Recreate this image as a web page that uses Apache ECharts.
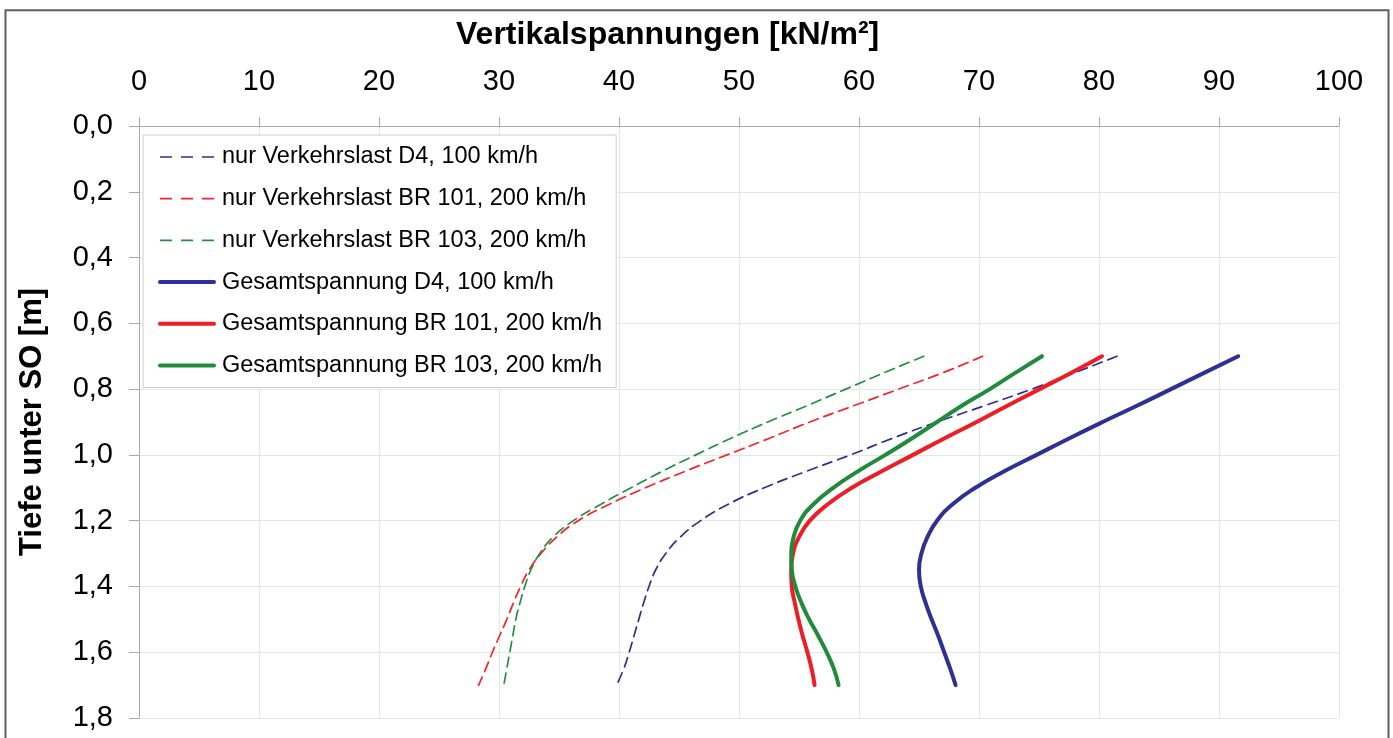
<!DOCTYPE html>
<html>
<head>
<meta charset="utf-8">
<script src="https://cdn.jsdelivr.net/npm/echarts@6/dist/echarts.min.js"></script>
<style>
html,body{margin:0;padding:0;background:#fff;}
#chart{width:1393px;height:738px;}
</style>
</head>
<body>
<div id="chart"></div>
<script>
// Depth below SO [m]
const depth = [0.70,0.75,0.80,0.85,0.90,0.95,1.00,1.05,1.10,1.15,1.20,1.25,1.30,1.35,1.40,1.45,1.50,1.55,1.60,1.65,1.70];
// Vertical stresses [kN/m²]
const nurD4    = [81.5,78.0,74.4,70.5,66.5,62.75,59.3,55.6,52.1,49.1,46.8,45.1,43.9,43.05,42.5,42.05,41.65,41.25,40.85,40.4,39.8];
const nurBR101 = [70.3,67.0,63.3,59.6,55.9,52.5,49.0,45.5,42.2,39.2,36.6,34.8,33.5,32.5,31.8,31.2,30.65,30.05,29.45,28.9,28.3];
const nurBR103 = [65.4,62.1,58.9,55.7,52.4,49.3,46.4,43.6,41.0,38.5,36.2,34.5,33.4,32.65,32.15,31.75,31.4,31.15,30.9,30.65,30.4];
const gesD4    = [91.6,88.8,86.0,83.2,80.3,77.5,74.8,72.1,69.7,67.8,66.5,65.7,65.2,65.0,65.15,65.55,66.05,66.6,67.1,67.6,68.05];
const gesBR101 = [80.25,77.7,75.05,72.4,69.8,67.1,64.5,61.9,59.4,57.4,55.9,55.0,54.5,54.35,54.4,54.65,54.95,55.3,55.7,56.05,56.3];
const gesBR103 = [75.25,73.05,70.9,68.6,66.5,64.4,62.2,59.9,57.85,56.2,55.1,54.55,54.35,54.4,54.7,55.2,55.85,56.6,57.3,57.9,58.3];

const names = [
  'nur Verkehrslast D4, 100 km/h',
  'nur Verkehrslast BR 101, 200 km/h',
  'nur Verkehrslast BR 103, 200 km/h',
  'Gesamtspannung D4, 100 km/h',
  'Gesamtspannung BR 101, 200 km/h',
  'Gesamtspannung BR 103, 200 km/h'
];
const xTicks = {min:0, max:100, interval:10};
const yTicks = {min:0, max:1.8, interval:0.2};

const BLUE = '#2E3192', RED = '#EE1D25', GREEN = '#1F8B3B';
const RED_D = '#F5252B', GREEN_D = '#22913F';
const FONT = '"Liberation Sans", Arial, Helvetica, sans-serif';

function pairs(vals){ return depth.map((d,i)=>[vals[i], d]); }
function mk(name, vals, color, dashed){
  return {
    name: name, type: 'line', data: pairs(vals), symbol: 'none', smooth: 0.5,
    lineStyle: {color: color, width: dashed ? 1.7 : 4, type: dashed ? [10,6] : 'solid', cap: 'round'},
    itemStyle: {color: color},
    emphasis: {disabled: true}, z: dashed ? 3 : 4
  };
}
const legendColors = [BLUE, RED_D, GREEN_D, BLUE, RED, GREEN];
const legendData = names.map((n, i) => ({
  name: n,
  lineStyle: i < 3 ? {color: legendColors[i], width: 1.7, type: [12, 9], cap: 'butt'}
                   : {color: legendColors[i], width: 4, type: 'solid', cap: 'round'}
}));

const chart = echarts.init(document.getElementById('chart'), null, {renderer:'canvas'});
chart.setOption({
  animation: false,
  backgroundColor: '#fff',
  textStyle: {fontFamily: FONT},
  title: {
    text: 'Vertikalspannungen [kN/m²]', left: 456, top: 19, padding: 0,
    textStyle: {fontSize: 32, fontWeight: 'bold', color: '#000', fontFamily: FONT}
  },
  grid: {left: 139, right: 54, top: 126, bottom: 20, containLabel: false},
  xAxis: {
    type: 'value', position: 'top', min: xTicks.min, max: xTicks.max, interval: xTicks.interval,
    axisLine: {show: true, lineStyle: {color: '#aaa', width: 1}},
    axisTick: {show: true, inside: false, length: 9, lineStyle: {color: '#aaa'}},
    axisLabel: {fontSize: 29, color: '#000', margin: 30, fontFamily: FONT},
    splitLine: {show: true, lineStyle: {color: '#e6e6e6', width: 1}}
  },
  yAxis: {
    type: 'value', inverse: true, min: yTicks.min, max: yTicks.max, interval: yTicks.interval,
    name: 'Tiefe unter SO [m]', nameLocation: 'middle', nameGap: 91, nameRotate: 90,
    nameTextStyle: {fontSize: 31, fontWeight: 'bold', color: '#000', fontFamily: FONT},
    axisLine: {show: true, lineStyle: {color: '#aaa', width: 1}},
    axisTick: {show: true, inside: false, length: 10, lineStyle: {color: '#aaa'}},
    axisLabel: {fontSize: 29, color: '#000', margin: 26, fontFamily: FONT,
      formatter: v => v.toFixed(1).replace('.', ',')},
    splitLine: {show: true, lineStyle: {color: '#e6e6e6', width: 1}}
  },
  legend: {
    show: true, orient: 'vertical', left: 143, top: 135,
    padding: [10, 14, 10, 15], itemWidth: 54, itemHeight: 14, itemGap: 17.7,
    backgroundColor: '#fff', borderColor: '#cfcfcf', borderWidth: 1,
    itemStyle: {color: 'rgba(0,0,0,0)', borderWidth: 0, opacity: 0},
    textStyle: {fontSize: 23.5, color: '#000', lineHeight: 24, fontFamily: FONT, padding: [0,0,0,3]},
    data: legendData, selectedMode: false
  },
  graphic: [{
    type: 'rect', silent: true, z: 100,
    shape: {x: 5.5, y: 10.3, width: 1383, height: 745},
    style: {fill: 'none', stroke: '#5e5e5e', lineWidth: 2}
  }],
  series: [
    mk(names[0], nurD4, BLUE, true),
    mk(names[1], nurBR101, RED_D, true),
    mk(names[2], nurBR103, GREEN_D, true),
    mk(names[3], gesD4, BLUE, false),
    mk(names[4], gesBR101, RED, false),
    mk(names[5], gesBR103, GREEN, false)
  ]
});
</script>
</body>
</html>
